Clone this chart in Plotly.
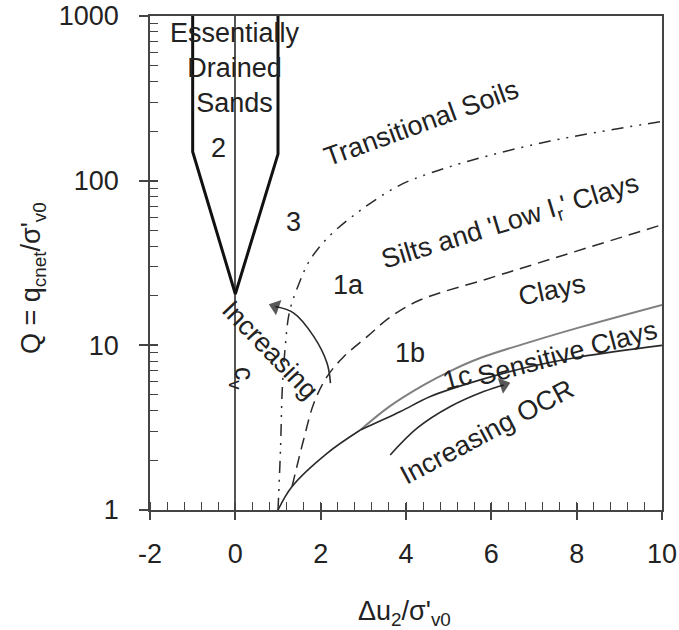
import numpy as np
import plotly.graph_objects as go

# ---------------- data ----------------
sand_x = [-1.0, -1.0, 0.0, 1.0, 1.0]
sand_q = [1000, 150, 20.5, 145, 1000]

b3_x = [1.0, 1.06, 1.10, 1.17, 1.27, 1.50, 1.75, 2.19, 2.93, 3.79, 4.34, 5.58, 7.38, 10.0]
b3_q = [1.0, 2.4, 5.4, 9.8, 16.0, 24.0, 33, 45.7, 66, 92, 106, 134, 174, 229]

b1a_x = [1.33, 1.60, 1.84, 2.15, 2.54, 3.09, 3.64, 4.34, 5.90, 7.46, 10.0]
b1a_q = [1.39, 2.67, 4.45, 6.46, 8.53, 11.3, 14.9, 18.9, 25.3, 33.8, 54]

b1b_x = [1.0, 1.33, 2.15, 2.93]
b1b_q = [1.0, 1.39, 2.21, 3.06]

sens_upper_x = [2.93, 3.6, 4.42, 5.05, 5.74, 6.92, 8.09, 10.0]
sens_upper_q = [3.06, 4.23, 5.75, 7.0, 8.37, 10.5, 12.9, 17.6]

sens_lower_x = [2.93, 3.87, 4.57, 5.74, 6.92, 8.09, 10.0]
sens_lower_q = [3.06, 3.96, 4.89, 6.17, 7.43, 8.53, 10.0]

ocr_x = [3.63, 4.26, 5.04, 5.82, 6.29]
ocr_q = [2.16, 3.14, 4.25, 5.24, 5.75]

cv_x = [2.23, 2.15, 1.84, 1.37, 0.94]
cv_q = [5.89, 7.79, 11.3, 15.7, 17.2]

x_ticks = [-2, 0, 2, 4, 6, 8, 10]
x_tick_text = ["-2", "0", "2", "4", "6", "8", "10"]
y_ticks = [1, 10, 100, 1000]
y_tick_text = ["1", "10", "100", "1000"]
y_minor = [m * 10 ** d for d in range(3) for m in range(2, 10)]

# label text, x, Q, angle
labels = [
    ("Essentially<br>Drained<br>Sands", 0.0, 483, 0),
    ("2", -0.39, 158, 0),
    ("3", 1.36, 56, 0),
    ("1a", 2.65, 23.3, 0),
    ("1b", 4.10, 8.95, 0),
    ("1c", 5.20, 6.3, -15),
    ("Sensitive Clays", 7.78, 8.95, -15),
    ("Increasing OCR", 5.90, 2.97, -28),
    ("Clays", 7.42, 21.7, -12),
    ("Silts and 'Low I<sub>r</sub>' Clays", 6.45, 55.3, -17),
    ("Transitional Soils", 4.37, 224, -20),
    ("Increasing", 0.82, 9.4, 46),
    ("c<sub>v</sub>", 0.15, 6.3, 90),
]

# ---------------- figure ----------------
FONT = "Liberation Sans, Arial, Helvetica, sans-serif"
AX = "#444444"
LC = "#2a2a2a"

fig = go.Figure()

fig.add_trace(go.Scatter(x=sand_x, y=sand_q, mode="lines",
                         line=dict(color="#111111", width=3)))
fig.add_trace(go.Scatter(x=b3_x, y=b3_q, mode="lines", line_shape="spline",
                         line=dict(color=LC, width=1.5, dash="12px,7px,2px,7px,2px,7px")))
fig.add_trace(go.Scatter(x=b1a_x, y=b1a_q, mode="lines", line_shape="spline",
                         line=dict(color=LC, width=1.5, dash="12px,7px")))
fig.add_trace(go.Scatter(x=b1b_x, y=b1b_q, mode="lines", line_shape="spline",
                         line=dict(color=LC, width=1.6)))
fig.add_trace(go.Scatter(x=sens_upper_x, y=sens_upper_q, mode="lines", line_shape="spline",
                         line=dict(color="#808080", width=2)))
fig.add_trace(go.Scatter(x=sens_lower_x, y=sens_lower_q, mode="lines", line_shape="spline",
                         line=dict(color=LC, width=1.6)))

for ax_, aq_ in ((ocr_x, ocr_q), (cv_x, cv_q)):
    sizes = [0] * (len(ax_) - 1) + [14]
    fig.add_trace(go.Scatter(x=ax_, y=aq_, mode="lines+markers", line_shape="spline",
                             line=dict(color=LC, width=1.6),
                             marker=dict(symbol="triangle-up", size=sizes, color="#111111",
                                         angleref="previous", line=dict(width=0))))

# dummy trace for overlay axes (crossing major ticks)
fig.add_trace(go.Scatter(x=[None], y=[None], xaxis="x2", yaxis="y2",
                         showlegend=False, hoverinfo="skip"))

for text, x, q, ang in labels:
    fig.add_annotation(x=x, y=np.log10(q), text=text, showarrow=False,
                       textangle=ang, xanchor="center", yanchor="middle",
                       font=dict(family=FONT, size=27, color="#222222"))

# axis titles as annotations
fig.add_annotation(xref="paper", yref="paper", x=(33 - 150) / 512, y=(510 - 278) / 494,
                   text="Q = q<sub>cnet</sub>/σ'<sub>v0</sub>", textangle=-90,
                   showarrow=False, xanchor="center", yanchor="middle",
                   font=dict(family=FONT, size=27, color="#222222"))
fig.add_annotation(xref="paper", yref="paper", x=(404 - 150) / 512, y=(510 - 613) / 494,
                   text="Δu<sub>2</sub>/σ'<sub>v0</sub>",
                   showarrow=False, xanchor="center", yanchor="middle",
                   font=dict(family=FONT, size=27, color="#222222"))

fig.update_layout(
    width=679, height=630,
    margin=dict(l=150, r=17, t=16, b=120, autoexpand=False),
    plot_bgcolor="white", paper_bgcolor="white",
    showlegend=False,
    font=dict(family=FONT, size=27, color="#222222"),
    xaxis=dict(range=[-2, 10], tickvals=x_ticks, ticktext=x_tick_text,
               ticks="outside", ticklen=8, automargin=False,
               tickwidth=1.5, tickcolor=AX, showline=True, linecolor=AX, linewidth=1.5,
               mirror=True, showgrid=False, zeroline=True, zerolinecolor="#555555",
               zerolinewidth=1.5, ticklabelstandoff=11,
               minor=dict(ticks="inside", ticklen=8, dtick=0.4, tick0=-2,
                          tickcolor=AX, tickwidth=1.2, showgrid=False)),
    yaxis=dict(type="log", range=[0, 3], tickvals=y_ticks, ticktext=y_tick_text,
               ticks="outside", ticklen=9, automargin=False,
               tickwidth=1.5, tickcolor=AX, showline=True, linecolor=AX, linewidth=1.5,
               mirror=True, showgrid=False, zeroline=False, ticklabelstandoff=15,
               minor=dict(ticks="inside", ticklen=8, tickvals=y_minor,
                          tickcolor=AX, tickwidth=1.2, showgrid=False)),
    xaxis2=dict(overlaying="x", anchor="y", side="bottom", range=[-2, 10],
                tickvals=x_ticks, ticks="inside", ticklen=7, tickwidth=1.5, tickcolor=AX,
                showticklabels=False, showline=False, showgrid=False, zeroline=False,
                automargin=False),
    yaxis2=dict(overlaying="y", anchor="x", side="left", type="log", range=[0, 3],
                tickvals=y_ticks, ticks="inside", ticklen=8, tickwidth=1.5, tickcolor=AX,
                showticklabels=False, showline=False, showgrid=False, zeroline=False,
                automargin=False),
)

fig.write_html("out.html", config={"displayModeBar": False},
               post_script="document.body.style.margin='0px';")
